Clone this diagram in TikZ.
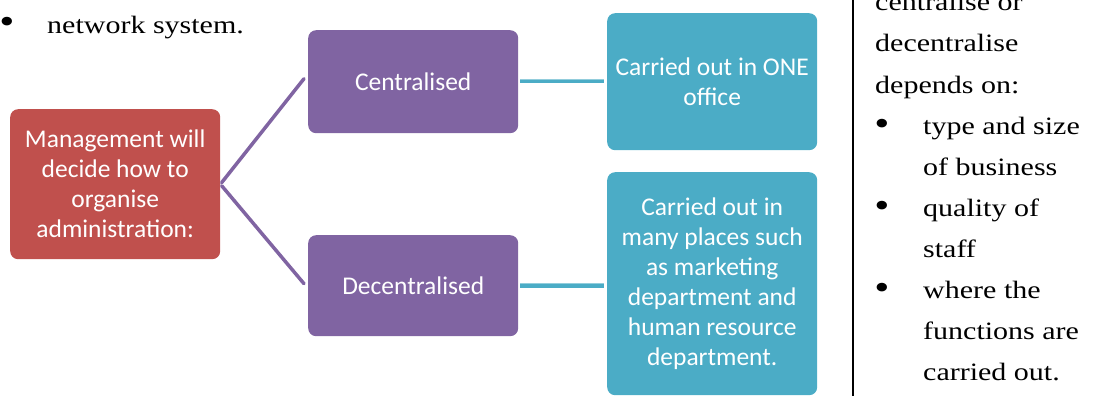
\documentclass[tikz,border=0pt]{standalone}
\usepackage{fontspec}
\setmainfont{Liberation Serif}[FakeStretch=1.2]
\newfontfamily\boxfont{Carlito}
\begin{document}
\begin{tikzpicture}[x=1pt,y=-1pt,
  smartbox/.style={rounded corners=8pt, inner sep=0pt, text=white,
    font=\boxfont\fontsize{25.5}{30}\selectfont, align=center, anchor=north west},
  redbox/.style={smartbox, fill=boxred},
  purplebox/.style={smartbox, fill=boxpurple},
  tealbox/.style={smartbox, fill=boxteal},
  purpleline/.style={draw=boxpurple, line width=3.5pt, line cap=round},
  tealline/.style={draw=boxteal, line width=3.5pt},
  teallight/.style={draw=boxtealL, line width=2pt},
  body/.style={font=\fontsize{25}{41}\selectfont, anchor=base west, inner sep=0pt},
  bul/.style={font=\fontsize{36}{41}\selectfont, anchor=center, inner sep=0pt}
]
\definecolor{boxred}{HTML}{C0504D}
\definecolor{boxpurple}{HTML}{8064A2}
\definecolor{boxteal}{HTML}{4BACC6}
\definecolor{boxtealL}{HTML}{92CDDC}
\useasboundingbox (0,0) rectangle (1106,396);

% left text
\node[bul] (b0) at (7,25) {\textbullet};
\node[body] (t0) at (47,34) {network system.};

% boxes
\node[redbox, minimum width=210pt, minimum height=150pt] (m) at (10,109)
  {Management will\\decide how to\\organise\\administration:};
\node[purplebox, minimum width=210pt, minimum height=103pt] (c) at (308,30) {Centralised};
\node[purplebox, minimum width=210pt, minimum height=101pt] (d) at (308,235) {Decentralised};
\node[tealbox, minimum width=210pt, minimum height=137pt] (o) at (607,13) {Carried out in ONE\\office};
\node[tealbox, minimum width=210pt, minimum height=223pt] (p) at (607,172)
  {Carried out in\\many places such\\as marketing\\department and\\human resource\\department.};

% connectors
\draw[purpleline, shorten <=2pt] (m.east) -- ([yshift=3pt,xshift=-4pt]c.west) ;
\draw[purpleline, shorten <=2pt] (m.east) -- ([yshift=2pt,xshift=-4pt]d.west);
\path[teallight] ([xshift=2pt,yshift=2pt]c.east) -- ([xshift=-3pt,yshift=2pt]c.east -| o.west);
\path[tealline] ([xshift=2pt]c.east) -- ([xshift=-3pt]c.east -| o.west);
\path[teallight] ([xshift=2pt,yshift=1.5pt]d.east) -- ([xshift=-3pt,yshift=1.5pt]d.east -| p.west);
\path[tealline] ([xshift=2pt,yshift=-0.5pt]d.east) -- ([xshift=-3pt,yshift=-0.5pt]d.east -| p.west);

% vertical rule
\coordinate (vt) at (853,0);
\coordinate (vb) at (853,396);
\draw[line width=1.6pt] (vt) -- (vb);

% right text
\node[body] (r0) at (875,11) {centralise or};
\node[body] (r1) at (875,52) {decentralise};
\node[body] (r2) at (875,93) {depends on:};
\node[bul] (rb1) at (882,127) {\textbullet};
\node[body] (r3) at (923,134) {type and size};
\node[body] (r4) at (923,175) {of business};
\node[bul] (rb2) at (882,209) {\textbullet};
\node[body] (r5) at (923,216) {quality of};
\node[body] (r6) at (923,257) {staff};
\node[bul] (rb3) at (882,291) {\textbullet};
\node[body] (r7) at (923,298) {where the};
\node[body] (r8) at (923,339) {functions are};
\node[body] (r9) at (923,380) {carried out.};
\end{tikzpicture}
\end{document}
